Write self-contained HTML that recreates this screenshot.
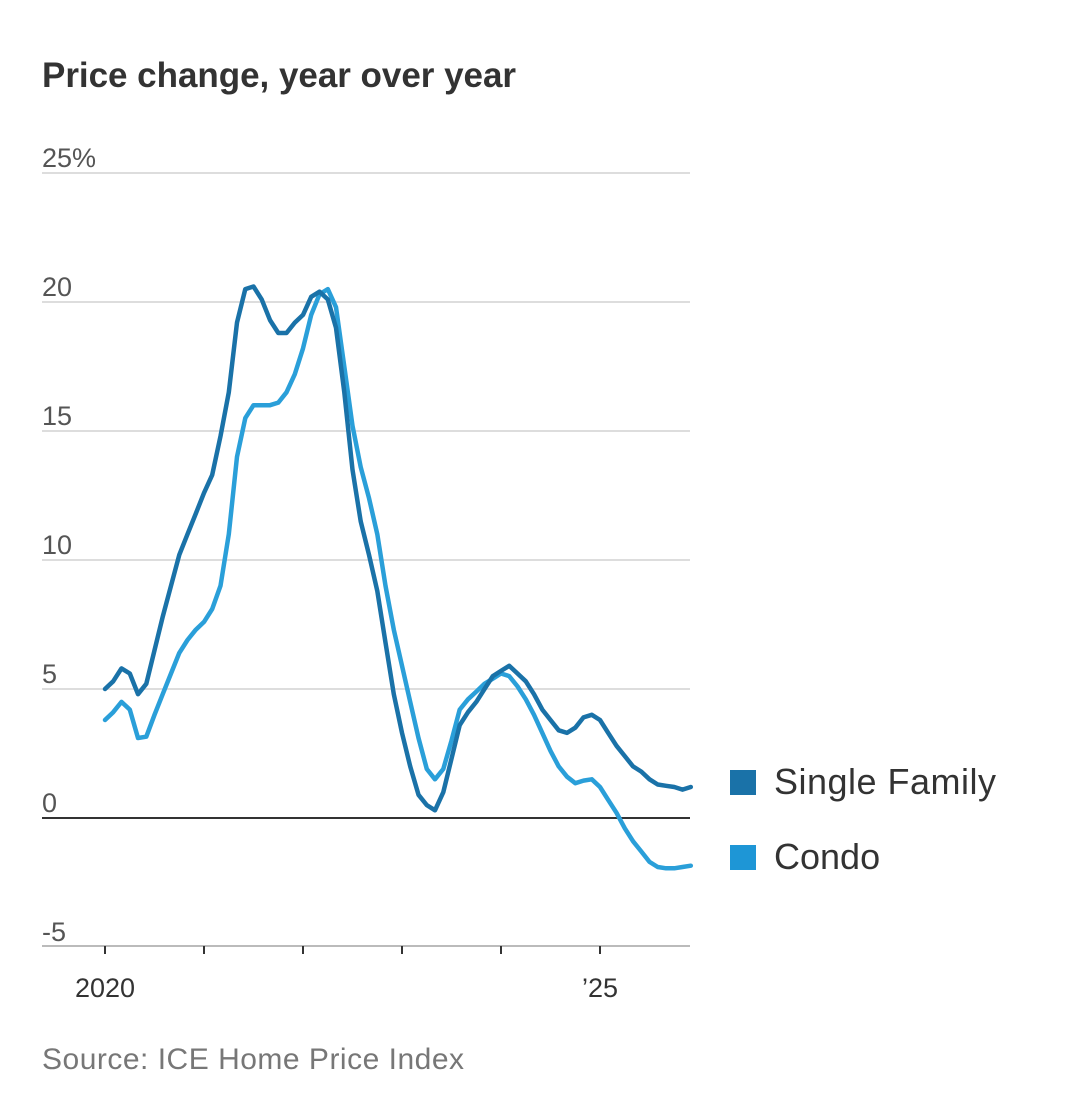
<!DOCTYPE html>
<html><head><meta charset="utf-8"><style>
body{margin:0;background:#fff;}
svg text{font-family:"Liberation Sans",sans-serif;}
</style></head><body>
<svg id="chart" width="1080" height="1099" xmlns="http://www.w3.org/2000/svg">
<text x="42" y="87" font-size="35" font-weight="bold" fill="#333" textLength="474">Price change, year over year</text>
<g id="grid"></g>
<g id="lines"></g>
<rect x="730" y="770" width="26" height="25" fill="#1a72a8"/>
<text x="774" y="794" font-size="36" fill="#333" textLength="222">Single Family</text>
<rect x="730" y="845" width="26" height="25" fill="#1e96d6"/>
<text x="774" y="869" font-size="36" fill="#333">Condo</text>
<text x="42" y="1069" font-size="30" fill="#777" textLength="422">Source: ICE Home Price Index</text>
</svg>
<script>
const yTicks=[25,20,15,10,5,0,-5];
const yTickLabels=["25%","20","15","10","5","0","-5"];
const xTickYears=[2020,2021,2022,2023,2024,2025];
const xTickLabels=["2020","","","","","\u201925"];
const singleFamily=[5.0,5.3,5.8,5.6,4.8,5.2,6.5,7.8,9.0,10.2,11.0,11.8,12.6,13.3,14.8,16.5,19.2,20.5,20.6,20.1,19.3,18.8,18.8,19.2,19.5,20.2,20.4,20.1,19.0,16.5,13.5,11.5,10.2,8.8,6.8,4.8,3.3,2.0,0.9,0.5,0.3,1.0,2.3,3.6,4.1,4.5,5.0,5.5,5.7,5.9,5.6,5.3,4.8,4.2,3.8,3.4,3.3,3.5,3.9,4.0,3.8,3.3,2.8,2.4,2.0,1.8,1.5,1.3,1.25,1.2,1.1,1.2];
const condo=[3.8,4.1,4.5,4.2,3.1,3.15,4.0,4.8,5.6,6.4,6.9,7.3,7.6,8.1,9.0,11.0,14.0,15.5,16.0,16.0,16.0,16.1,16.5,17.2,18.2,19.5,20.3,20.5,19.8,17.5,15.2,13.6,12.4,11.0,9.0,7.3,5.9,4.5,3.1,1.9,1.5,1.9,3.0,4.2,4.6,4.9,5.2,5.4,5.6,5.5,5.1,4.6,4.0,3.3,2.6,2.0,1.6,1.35,1.45,1.5,1.2,0.7,0.2,-0.4,-0.9,-1.3,-1.7,-1.9,-1.95,-1.95,-1.9,-1.85];
const NS="http://www.w3.org/2000/svg";
const yScale=v=>818-v*25.8;
const xScale=t=>105+(t-2020)*99;
const mk=(tag,attrs,parent)=>{const e=document.createElementNS(NS,tag);for(const k in attrs)e.setAttribute(k,attrs[k]);parent.appendChild(e);return e;};
const grid=document.getElementById('grid');
yTicks.forEach((v,i)=>{
  const y=yScale(v);
  if(v!==-5){const l=mk('line',{x1:42,x2:690,y1:y,y2:y,stroke:v===0?'#333':'#ddd','stroke-width':2},grid);
  
  }
  const t=mk('text',{x:42,y:y-6,'font-size':27,fill:'#555'},grid);
  t.textContent=yTickLabels[i];
  
  
});
const ax=mk('line',{x1:42,x2:690,y1:946,y2:946,stroke:'#bbb','stroke-width':2},grid);


xTickYears.forEach((yr,i)=>{
  const x=xScale(yr);
  const tk=mk('line',{x1:x,x2:x,y1:946,y2:954,stroke:'#333','stroke-width':2},grid);
  
  
  if(xTickLabels[i]){const t=mk('text',{x:x,y:997,'font-size':27,fill:'#333','text-anchor':'middle'},grid);
  t.textContent=xTickLabels[i];
  
  }
});
const lines=document.getElementById('lines');
function draw(data,color,name){
  const d=data.map((v,i)=>(i?'L':'M')+xScale(2020+i/12).toFixed(1)+','+yScale(v).toFixed(1)).join('');
  const p=mk('path',{d:d,fill:'none',stroke:color,'stroke-width':4.5,'stroke-linejoin':'round','stroke-linecap':'round'},lines);
  
  
}
draw(condo,'#2a9fd9','condo-line');
draw(singleFamily,'#1a72a8','single-family-line');
</script>
</body></html>
